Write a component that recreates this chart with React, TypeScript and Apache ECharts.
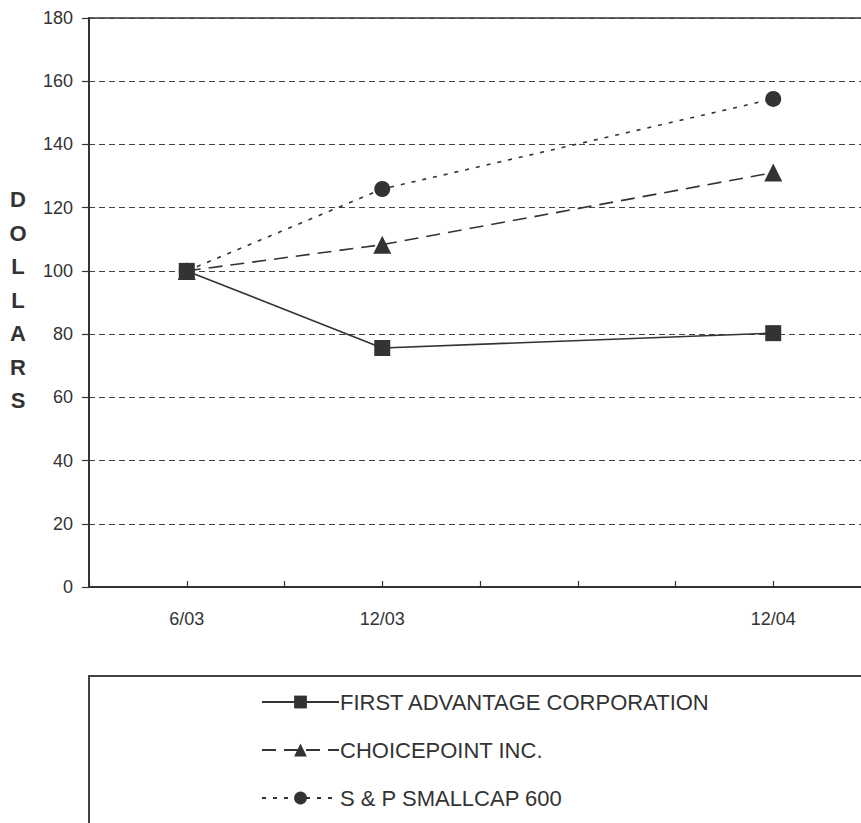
import React, { useEffect, useRef } from "react";
import * as echarts from "echarts";

const quarters = ["3/03", "6/03", "9/03", "12/03", "3/04", "6/04", "9/04", "12/04", "3/05"];
const labeledDates = ["6/03", "12/03", "12/04"];
const firstAdvantage = [100, 75.6, 80.3];
const choicePoint = [100, 108.3, 131.1];
const spSmallCap = [100, 125.9, 154.4];
const seriesNames = ["FIRST ADVANTAGE CORPORATION", "CHOICEPOINT INC.", "S & P SMALLCAP 600"];
const yTicks = { min: 0, max: 180, interval: 20 };

const FONT = "'Liberation Sans', Arial, Helvetica, sans-serif";
const INK = "#333333";

export default function App() {
  const ref = useRef<HTMLDivElement>(null);
  useEffect(() => {
    if (!ref.current) return;
    const chart = echarts.init(ref.current, undefined, { renderer: "svg" });
    const pair = (vals: number[]) => labeledDates.map((d, i) => [d, vals[i]]);
    const mk = (name: string, vals: number[], symbol: string, size: number, type: any) => ({
      name,
      type: "line",
      data: pair(vals),
      symbol,
      symbolSize: size,
      showSymbol: true,
      connectNulls: true,
      itemStyle: { color: INK, borderWidth: 0 },
      lineStyle: { color: INK, width: 1.6, type },
      emphasis: { disabled: true },
    });
    chart.setOption({
      animation: false,
      textStyle: { fontFamily: FONT },
      grid: {
        left: 89,
        top: 18,
        width: 782,
        height: 569,
        outerBoundsMode: "none",
        containLabel: false,
        show: true,
        borderColor: INK,
        borderWidth: 1.5,
        backgroundColor: "transparent",
      },
      xAxis: {
        type: "category",
        data: quarters,
        boundaryGap: false,
        axisLine: { lineStyle: { color: INK, width: 2 } },
        axisTick: { show: true, inside: true, length: 6, interval: 0, lineStyle: { color: INK, width: 1.2 } },
        axisLabel: {
          interval: 0,
          margin: 23,
          fontSize: 18,
          color: INK,
          fontFamily: FONT,
          formatter: (v: string) => (labeledDates.includes(v) ? v : ""),
        },
        splitLine: { show: false },
      },
      yAxis: {
        type: "value",
        min: yTicks.min,
        max: yTicks.max,
        interval: yTicks.interval,
        axisLine: { show: true, lineStyle: { color: INK, width: 2 } },
        axisTick: { show: true, length: 7, lineStyle: { color: INK, width: 1.2 } },
        axisLabel: { fontSize: 18, color: INK, margin: 16, fontFamily: FONT },
        splitLine: { show: true, lineStyle: { color: "#444", width: 1, type: [6, 4] } },
      },
      legend: {
        orient: "vertical",
        left: 261,
        top: 691,
        height: 200,
        padding: 0,
        itemWidth: 77,
        itemHeight: 16,
        itemGap: 26,
        selectedMode: false,
        textStyle: { fontSize: 22, color: INK, fontFamily: FONT, padding: [0, 0, 0, -4] },
        data: seriesNames,
      },
      graphic: [
        {
          type: "rect",
          shape: { x: 89, y: 676, width: 820, height: 200 },
          style: { fill: "none", stroke: "#444", lineWidth: 2 },
          silent: true,
        },
        {
          type: "text",
          x: 18,
          y: 300,
          style: {
            text: "D\nO\nL\nL\nA\nR\nS",
            fontSize: 22,
            fontWeight: "bold",
            fontFamily: FONT,
            fill: INK,
            lineHeight: 33.5,
            align: "center",
            verticalAlign: "middle",
          },
          silent: true,
        },
      ],
      series: [
        mk(seriesNames[0], firstAdvantage, "rect", 16, "solid"),
        mk(seriesNames[1], choicePoint, "triangle", 18, [14, 8]),
        mk(seriesNames[2], spSmallCap, "circle", 16, [4, 7]),
      ],
    });
    return () => chart.dispose();
  }, []);
  return (
    <div
      ref={ref}
      style={{ position: "fixed", left: 0, top: 0, width: 861, height: 823, background: "#fff" }}
    />
  );
}
